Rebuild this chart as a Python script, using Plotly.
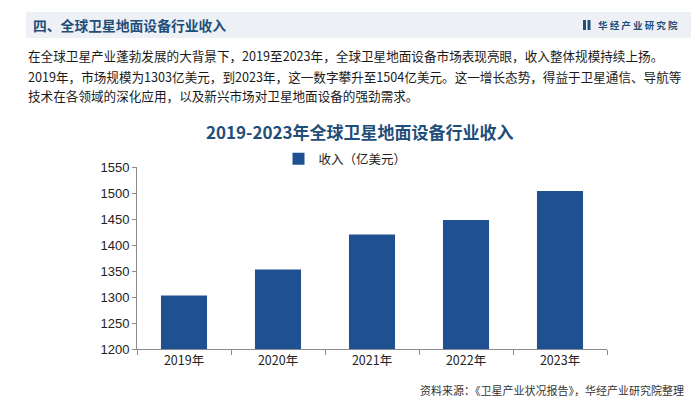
import plotly.graph_objects as go

years = ["2019年", "2020年", "2021年", "2022年", "2023年"]
revenue = [1303, 1353, 1420, 1448, 1504]
series_name = "收入（亿美元）"
y_ticks = [1200, 1250, 1300, 1350, 1400, 1450, 1500, 1550]

W, H = 700, 398
L, R, T, B = 129, 599, 159, 341
CJK = "Noto Sans CJK SC, Noto Sans, sans-serif"
NUM = "Liberation Sans, Arial, sans-serif"
DARK = "#1F4E79"

def px(x):
    return (x - L) / (R - L)

def py(y):
    return (B - y) / (B - T)

fig = go.Figure()
fig.add_trace(go.Bar(x=years, y=revenue, name=series_name,
                     marker=dict(color="#1F5091", line=dict(width=0)),
                     width=0.49))

shapes = [
    dict(type="rect", xref="paper", yref="paper", x0=px(18), x1=px(683),
         y0=py(30), y1=py(4), fillcolor="#EDF1F6", line=dict(width=0), layer="below"),
    dict(type="rect", xref="paper", yref="paper", x0=px(575), x1=px(578),
         y0=py(22), y1=py(12), fillcolor=DARK, line=dict(width=0)),
    dict(type="rect", xref="paper", yref="paper", x0=px(579.5), x1=px(582.5),
         y0=py(22), y1=py(12), fillcolor=DARK, line=dict(width=0)),
]

annotations = [
    dict(text="<b>四、全球卫星地面设备行业收入</b>", x=px(23), y=py(17), xanchor="left", yanchor="middle",
         font=dict(family=CJK, size=13.8, color=DARK)),
    dict(text="<b>华 经 产 业 研 究 院</b>", x=px(588), y=py(17), xanchor="left", yanchor="middle",
         font=dict(family=CJK, size=9.5, color=DARK)),
    dict(text="在全球卫星产业蓬勃发展的大背景下，2019至2023年，全球卫星地面设备市场表现亮眼，收入整体规模持续上扬。",
         x=px(18), y=py(48), xanchor="left", yanchor="middle",
         font=dict(family=CJK, size=12.6, color="#1a1a1a")),
    dict(text="2019年，市场规模为1303亿美元，到2023年，这一数字攀升至1504亿美元。这一增长态势，得益于卫星通信、导航等",
         x=px(18), y=py(68), xanchor="left", yanchor="middle",
         font=dict(family=CJK, size=12.6, color="#1a1a1a")),
    dict(text="技术在各领域的深化应用，以及新兴市场对卫星地面设备的强劲需求。",
         x=px(18), y=py(87), xanchor="left", yanchor="middle",
         font=dict(family=CJK, size=12.6, color="#1a1a1a")),
    dict(text="<b>2019-2023年全球卫星地面设备行业收入</b>", x=px(352), y=py(123), xanchor="center", yanchor="middle",
         font=dict(family=CJK, size=17, color=DARK)),
    dict(text="资料来源：《卫星产业状况报告》，华经产业研究院整理", x=px(678), y=py(382), xanchor="right", yanchor="middle",
         font=dict(family=CJK, size=11, color="#333333")),
]
for a in annotations:
    a.update(xref="paper", yref="paper", showarrow=False)

fig.update_layout(
    width=W, height=H,
    margin=dict(l=L, r=W - R, t=T, b=H - B, pad=0),
    paper_bgcolor="white", plot_bgcolor="white",
    showlegend=True,
    legend=dict(orientation="h", x=px(337), y=py(151), xanchor="center", yanchor="middle",
                font=dict(family=CJK, size=12.5, color="#222"), itemwidth=30,
                bgcolor="rgba(0,0,0,0)"),
    shapes=shapes, annotations=annotations,
    bargap=0.51,
    xaxis=dict(showline=True, linecolor="#8c8c8c", linewidth=1, ticks="outside",
               tickson="boundaries", ticklen=5, tickcolor="#8c8c8c", showgrid=False,
               tickfont=dict(family=CJK, size=12.5, color="#222")),
    yaxis=dict(range=[1200, 1550], tickvals=y_ticks, showline=True, linecolor="#8c8c8c",
               linewidth=1, ticks="outside", ticklen=4, tickcolor="#8c8c8c", showgrid=False,
               zeroline=False, tickfont=dict(family=NUM, size=13, color="#222")),
)

fig.write_html("out.html")
